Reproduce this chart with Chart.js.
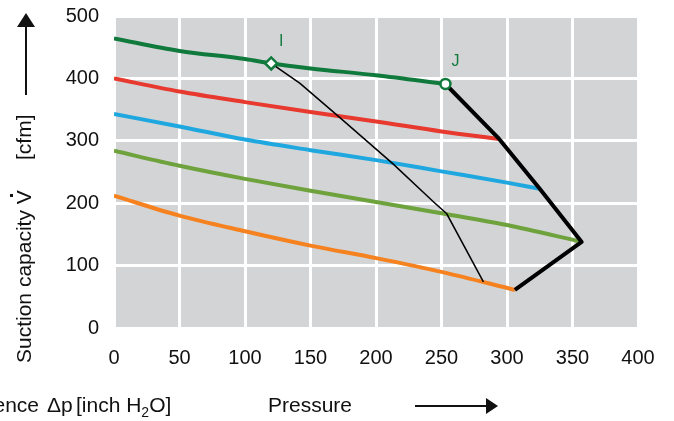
<!DOCTYPE html>
<html lang="en">
<head>
  <meta charset="UTF-8">
  <title>Suction capacity vs pressure</title>
  <script src="https://cdn.jsdelivr.net/npm/chart.js"></script>
  <style>
    body {
      margin: 0;
      background: #ffffff;
    }
    #chart-container {
      width: 674px;
      height: 421px;
    }
  </style>
</head>
<body>
<div id="chart-container">
  <canvas id="capacityChart" width="674" height="421"></canvas>
</div>
<script>
  // curves: pressure [inch H2O] / suction capacity [cfm]
  const darkGreenP = [0, 50, 100, 120, 150, 200, 253];
  const darkGreenV = [464, 444, 431, 424, 416, 405, 391];

  const redP = [0, 50, 100, 150, 200, 250, 294];
  const redV = [400, 379, 362, 346, 331, 315, 303];

  const blueP = [0, 50, 100, 150, 200, 250, 300, 325];
  const blueV = [343, 323, 302, 285, 269, 251, 233, 223];

  const lightGreenP = [0, 50, 100, 150, 200, 250, 300, 357];
  const lightGreenV = [284, 260, 239, 220, 202, 184, 165, 138];

  const orangeP = [0, 50, 100, 150, 200, 250, 306];
  const orangeV = [212, 180, 155, 132, 112, 90, 61];

  // thick boundary line (J -> apex -> orange end) and thin operating line
  const limitP = [253, 294, 325, 357, 306];
  const limitV = [391, 303, 223, 138, 61];

  const thinP = [120, 142, 172, 213, 244, 254, 282];
  const thinV = [424, 392, 338, 263, 202, 183, 74];

  // marked points
  const markP = [120, 253];
  const markV = [424, 391];
  const markLabels = ['I', 'J'];

  const FONT = '"Liberation Sans", Arial, sans-serif';
  const DARK_GREEN = '#0f7a3c';

  function pts(xs, ys) {
    return xs.map((x, i) => ({ x: x, y: ys[i] }));
  }

  function curve(xs, ys, color) {
    return {
      data: pts(xs, ys),
      borderColor: color,
      borderWidth: 4,
      pointRadius: 0,
      tension: 0.4,
      cubicInterpolationMode: 'monotone',
      fill: false
    };
  }

  const plotBackground = {
    id: 'plotBackground',
    beforeDraw: (chart) => {
      const a = chart.chartArea;
      const ctx = chart.ctx;
      ctx.save();
      ctx.fillStyle = '#d3d4d6';
      ctx.fillRect(a.left, a.top, a.right - a.left, a.bottom - a.top);
      ctx.restore();
    }
  };

  const axisTitles = {
    id: 'axisTitles',
    afterDraw: (chart) => {
      const ctx = chart.ctx;
      const xs = chart.scales.x;
      const ys = chart.scales.y;
      ctx.save();

      // I / J labels
      ctx.fillStyle = DARK_GREEN;
      ctx.font = '16px ' + FONT;
      ctx.textAlign = 'center';
      ctx.textBaseline = 'middle';
      markLabels.forEach((lab, i) => {
        ctx.fillText(lab, xs.getPixelForValue(markP[i]) + 10, ys.getPixelForValue(markV[i]) - 22);
      });

      ctx.fillStyle = '#111111';
      ctx.strokeStyle = '#111111';

      // y title, rotated
      ctx.font = '21px ' + FONT;
      ctx.textAlign = 'left';
      ctx.textBaseline = 'alphabetic';
      ctx.save();
      ctx.translate(31, 363);
      ctx.rotate(-Math.PI / 2);
      ctx.fillText('Suction capacity V', 0, 0);
      ctx.restore();
      ctx.save();
      ctx.translate(31, 160);
      ctx.rotate(-Math.PI / 2);
      ctx.fillText('[cfm]', 0, 0);
      ctx.restore();
      ctx.fillRect(10, 194, 3, 3);

      // y arrow
      ctx.lineWidth = 2;
      ctx.beginPath();
      ctx.moveTo(26, 95);
      ctx.lineTo(26, 24);
      ctx.stroke();
      ctx.beginPath();
      ctx.moveTo(26, 13);
      ctx.lineTo(35, 27);
      ctx.lineTo(17, 27);
      ctx.closePath();
      ctx.fill();

      // x title
      ctx.font = '21px ' + FONT;
      ctx.textAlign = 'right';
      ctx.fillText('difference', 39, 412);
      ctx.textAlign = 'left';
      ctx.fillText('\u0394p', 47, 412);
      ctx.fillText('[inch H', 76, 412);
      let w = ctx.measureText('[inch H').width;
      ctx.font = '14px ' + FONT;
      ctx.fillText('2', 76 + w, 417);
      const w2 = ctx.measureText('2').width;
      ctx.font = '21px ' + FONT;
      ctx.fillText('O]', 76 + w + w2, 412);
      ctx.fillText('Pressure', 268, 412);

      // x arrow
      ctx.beginPath();
      ctx.moveTo(415, 406);
      ctx.lineTo(488, 406);
      ctx.stroke();
      ctx.beginPath();
      ctx.moveTo(498, 406);
      ctx.lineTo(486, 398);
      ctx.lineTo(486, 414);
      ctx.closePath();
      ctx.fill();

      ctx.restore();
    }
  };

  const ctx = document.getElementById('capacityChart').getContext('2d');
  new Chart(ctx, {
    type: 'line',
    data: {
      datasets: [
        {
          data: pts(markP, markV),
          showLine: false,
          pointStyle: ['rectRot', 'circle'],
          pointRadius: [6, 5],
          pointBackgroundColor: '#ffffff',
          pointBorderColor: DARK_GREEN,
          pointBorderWidth: 2.5
        },
        {
          data: pts(limitP, limitV),
          borderColor: '#000000',
          borderWidth: 4,
          pointRadius: 0,
          tension: 0,
          borderJoinStyle: 'round'
        },
        {
          data: pts(thinP, thinV),
          borderColor: '#000000',
          borderWidth: 1.5,
          pointRadius: 0,
          tension: 0
        },
        curve(darkGreenP, darkGreenV, DARK_GREEN),
        curve(redP, redV, '#e8392f'),
        curve(blueP, blueV, '#1fa7e0'),
        curve(lightGreenP, lightGreenV, '#6ea23c'),
        curve(orangeP, orangeV, '#f5821f')
      ]
    },
    options: {
      responsive: false,
      animation: false,
      layout: { padding: { top: 16, right: 36, bottom: 0, left: 0 } },
      plugins: {
        legend: { display: false },
        tooltip: { enabled: false }
      },
      scales: {
        x: {
          type: 'linear',
          min: 0,
          max: 400,
          ticks: { stepSize: 50, color: '#111', padding: 18, font: { family: FONT, size: 20 } },
          grid: { color: '#ffffff', lineWidth: 3, drawTicks: false },
          border: { display: false },
          afterFit: (scale) => {
            scale.height = 93;
            scale.paddingLeft = 0;
            scale.paddingRight = 0;
          }
        },
        y: {
          min: 0,
          max: 500,
          ticks: { stepSize: 100, color: '#111', padding: 15, font: { family: FONT, size: 20 } },
          grid: { color: '#ffffff', lineWidth: 3, drawTicks: false },
          border: { display: false },
          afterFit: (scale) => {
            scale.width = 114;
            scale.paddingTop = 0;
            scale.paddingBottom = 0;
          }
        }
      }
    },
    plugins: [plotBackground, axisTitles]
  });
</script>
</body>
</html>
